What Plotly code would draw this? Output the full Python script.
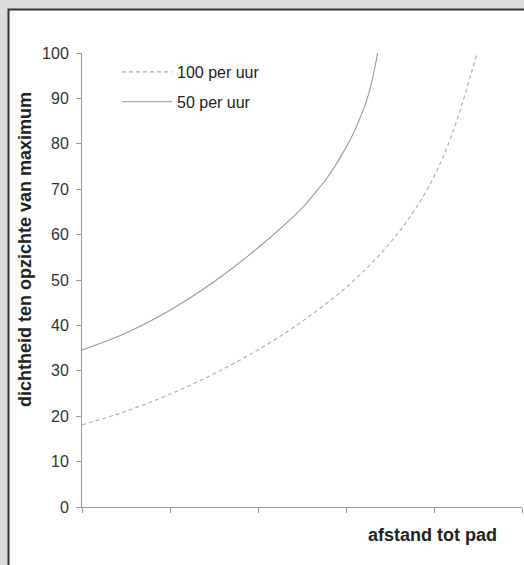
import plotly.graph_objects as go

# data (x in arbitrary distance units, y in % of maximum)
x_100 = [0, 0.5, 1.0, 1.5, 2.0, 2.5, 3.0, 3.4, 3.7, 3.95, 4.15, 4.3, 4.42, 4.49]
y_100 = [18.1, 21.1, 24.85, 29.35, 34.6, 40.85, 48.35, 55.95, 63.15, 70.9, 79.3, 87.55, 95.35, 100]

x_50 = [0, 0.5, 1.0, 1.5, 2.0, 2.5, 2.65, 2.8, 2.95, 3.1, 3.25, 3.36]
y_50 = [34.6, 38.35, 43.35, 49.6, 57.1, 65.85, 69.2, 72.9, 77.5, 83.0, 90.5, 100]

series_names = ["100 per uur", "50 per uur"]
y_ticks = [0, 10, 20, 30, 40, 50, 60, 70, 80, 90, 100]
x_ticks = [0, 1, 2, 3, 4, 5]

fig = go.Figure()
fig.add_trace(go.Scatter(x=x_100, y=y_100, mode="lines", name=series_names[0], legendgroup="a",
                         line=dict(color="#adadad", width=1.1, dash="4px,3px", shape="spline",
                                   smoothing=1.0)))
fig.add_trace(go.Scatter(x=x_50, y=y_50, mode="lines", name=series_names[1], legendgroup="b",
                         line=dict(color="#9a9a9a", width=1.1, shape="spline", smoothing=1.0)))

W, H = 524, 565
L, R, T, B = 82, 2, 53, 58
pw, ph = W - L - R, H - T - B


def px2paper_x(px):
    return (px - L) / pw


def px2paper_y(py):
    return (H - B - py) / ph


fig.update_layout(
    width=W, height=H,
    margin=dict(l=L, r=R, t=T, b=B),
    paper_bgcolor="#dcdcdc",
    plot_bgcolor="white",
    font=dict(family="Liberation Sans, Arial, sans-serif", color="#222"),
    showlegend=True,
    legend=dict(x=px2paper_x(117), y=px2paper_y(55), xanchor="left", yanchor="top",
                bgcolor="rgba(0,0,0,0)", font=dict(size=16, color="#222"),
                itemwidth=50, traceorder="grouped", tracegroupgap=6),
    xaxis=dict(range=[0, 5], tickvals=x_ticks, showticklabels=False,
               ticks="outside", ticklen=5, tickcolor="#999",
               showline=True, linecolor="#999", linewidth=1,
               showgrid=False, zeroline=False, fixedrange=True),
    yaxis=dict(range=[0, 100], tickvals=y_ticks, ticks="outside", ticklen=5,
               tickcolor="#999", showline=True, linecolor="#999", linewidth=1,
               showgrid=False, zeroline=False, tickfont=dict(size=16, color="#333"),
               ticklabelstandoff=4, fixedrange=True),
    shapes=[dict(type="rect", xref="paper", yref="paper", layer="below",
                 x0=px2paper_x(8.5), x1=px2paper_x(560), y0=px2paper_y(600), y1=px2paper_y(9.5),
                 fillcolor="white", line=dict(color="#333", width=2))],
    annotations=[
        dict(text="<b>afstand tot pad</b>", xref="paper", yref="paper",
             x=px2paper_x(432), y=px2paper_y(535), xanchor="center", yanchor="middle",
             showarrow=False, font=dict(size=18, color="#222")),
        dict(text="<b>dichtheid ten opzichte van maximum</b>", xref="paper", yref="paper",
             x=px2paper_x(25), y=px2paper_y(250), xanchor="center", yanchor="middle",
             textangle=-90, showarrow=False, font=dict(size=18, color="#222")),
    ],
)

fig.write_html("out.html", config={"displayModeBar": False},
               post_script="document.body.style.margin='0px';")
